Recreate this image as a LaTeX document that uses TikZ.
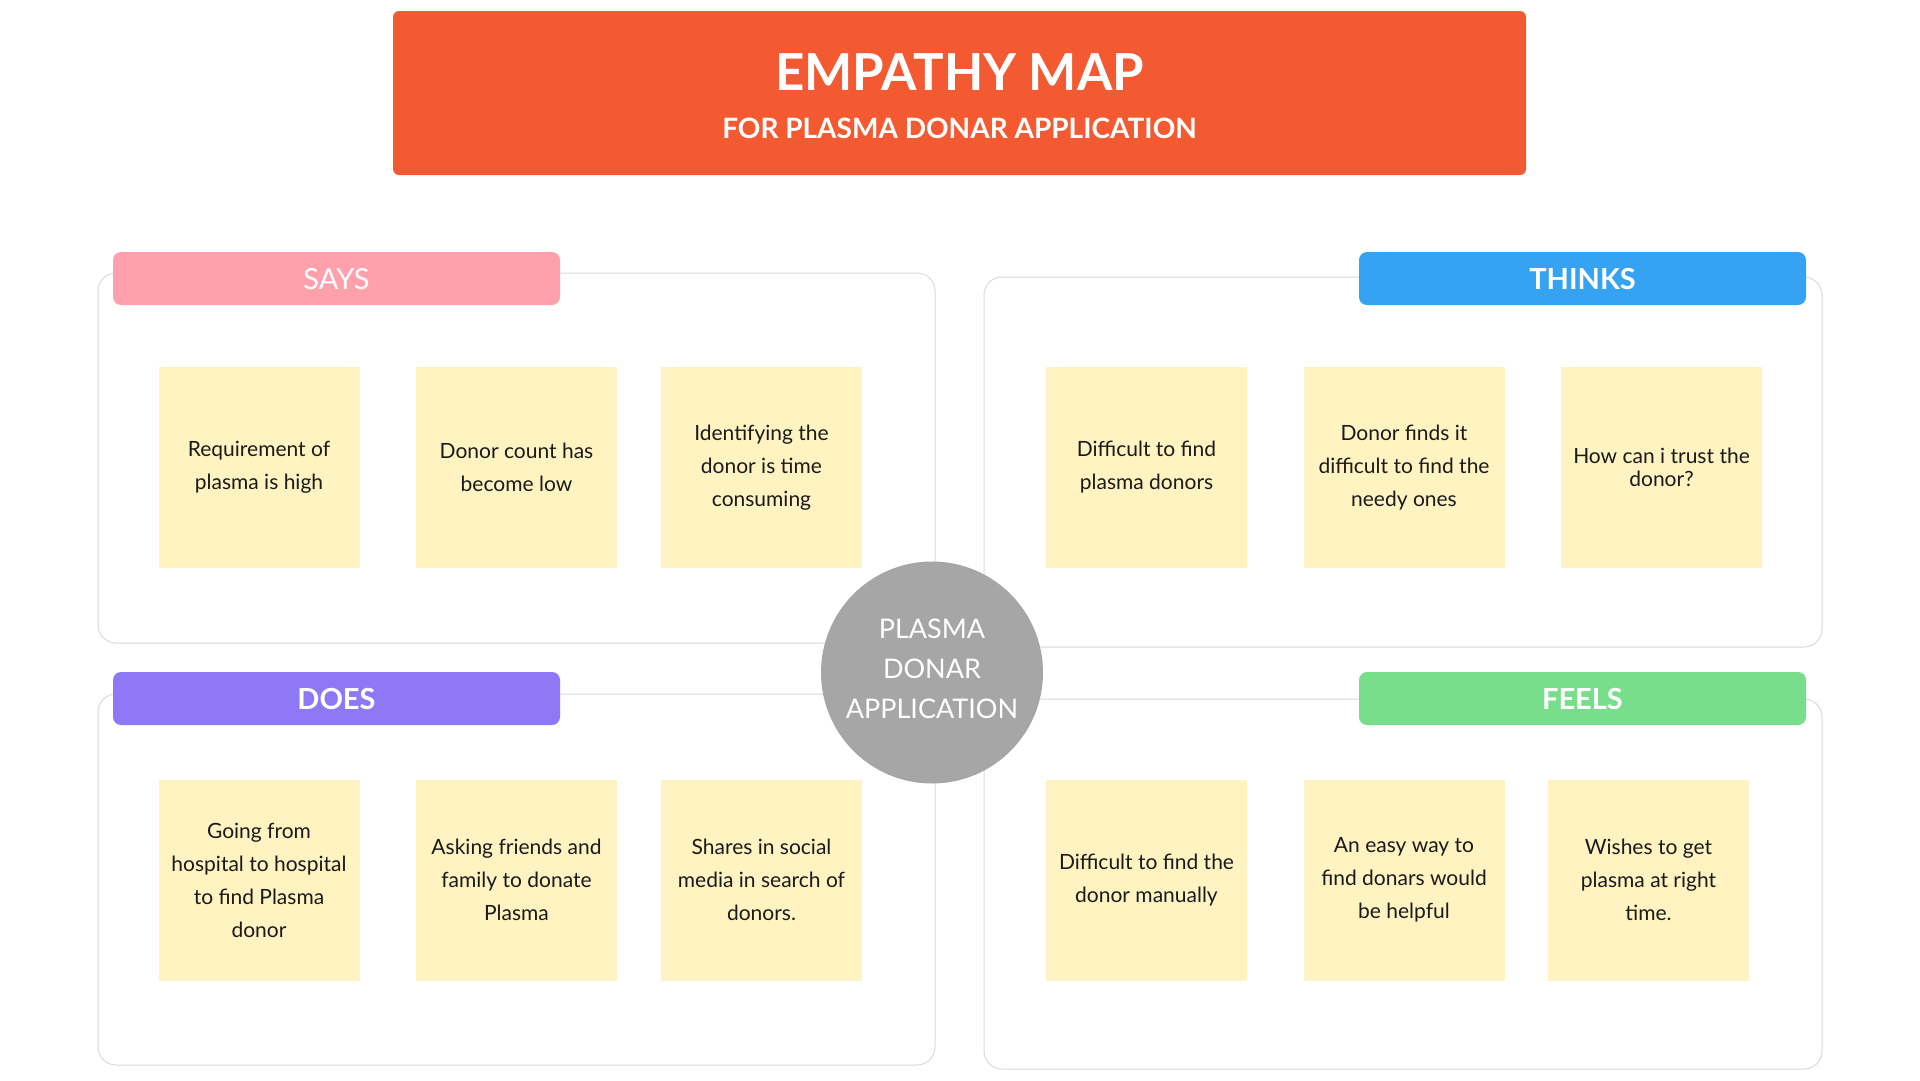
\documentclass[tikz,border=0pt]{standalone}
\usepackage{fontspec}
\setmainfont{Lato}
\usepackage{xcolor}
\usepackage{tikz}
\usetikzlibrary{
    positioning
}
\definecolor{titleorange}{HTML}{F45A32}
\definecolor{sayspink}{HTML}{FFA1AD}
\definecolor{thinksblue}{HTML}{36A2F2}
\definecolor{doespurple}{HTML}{8F78F5}
\definecolor{feelsgreen}{HTML}{78DE8C}
\definecolor{noteyellow}{HTML}{FFF3C1}
\definecolor{hubgray}{HTML}{A6A6A6}
\definecolor{framegray}{HTML}{DADADA}
\definecolor{notetext}{HTML}{1A1A1A}
\tikzset{
    % quadrant frame
    quadrant/.style={
        rectangle,
        rounded corners=18pt,    % corner radius
        draw=framegray,
        line width=1pt,
        minimum width=837pt,
        minimum height=370pt,
        inner sep=0pt
    },
    % coloured heading bar
    header/.style={
        rectangle,
        rounded corners=8pt,
        fill=#1,
        text=white,
        minimum width=447pt,
        minimum height=53pt,
        inner sep=0pt,
        text height=21pt,        % caps only, so the word sits in the middle
        text depth=0pt,
        font=\fontsize{29}{34}\selectfont
    },
    % sticky note
    note/.style={
        rectangle,
        fill=noteyellow,
        minimum width=201pt,
        minimum height=201pt,
        inner sep=0pt,
        align=center,
        text=notetext,
        font=\fontsize{21}{33}\selectfont
    }
}

\begin{document}
\begin{tikzpicture}[x=1pt, y=-1pt]
    \useasboundingbox (0,0) rectangle (1920,1080);
    \fill[white] (0,0) rectangle (1920,1080);

    % Title
    \node[fill=titleorange, rounded corners=6pt, minimum width=1133pt, minimum height=164pt] (titlebox) at (959.5,93) {};
    \node[text=white, font=\fontsize{51}{60}\selectfont\bfseries] (maintitle) at (959.5,72) {EMPATHY MAP};
    \node[text=white, font=\fontsize{28}{32}\selectfont\bfseries] (subtitle) at (959.5,128) {FOR PLASMA DONAR APPLICATION};

    % Quadrants
    \node[quadrant] (saysq) at (516.5,458) {};
    \node[quadrant, minimum width=838pt] (thinksq) at (1403,462) {};
    \node[quadrant, minimum height=371pt] (doesq) at (516.5,879.5) {};
    \node[quadrant, minimum width=838pt] (feelsq) at (1403,884) {};

    % Headers
    \node[header=sayspink] (says) at (336.5,278.5) {SAYS};
    \node[header=thinksblue, font=\fontsize{29}{34}\selectfont\bfseries] (thinks) at (1582.5,278.5) {THINKS};
    \node[header=doespurple, font=\fontsize{29}{34}\selectfont\bfseries] (does) at (336.5,698.5) {DOES};
    \node[header=feelsgreen, font=\fontsize{29}{34}\selectfont\bfseries] (feels) at (1582.5,698.5) {FEELS};

    % Notes - says
    \node[note] (says1) at (259,467.5) {Requirement of\\plasma is high};
    \node[note] (says2) at (516.5,467.5) {Donor count has\\become low};
    \node[note] (says3) at (761.5,467.5) {Identifying the\\donor is time\\consuming};
    % Notes - thinks
    \node[note] (thinks1) at (1146.5,467.5) {Difficult to find\\plasma donors};
    \node[note] (thinks2) at (1404,467.5) {Donor finds it\\difficult to find the\\needy ones};
    \node[note, font=\fontsize{21}{23}\selectfont] (thinks3) at (1661.5,467.5) {How can i trust the\\donor?};
    % Notes - does
    \node[note] (does1) at (259,880) {Going from\\hospital to hospital\\to find Plasma\\donor};
    \node[note] (does2) at (516.5,880) {Asking friends and\\family to donate\\Plasma};
    \node[note] (does3) at (761.5,880) {Shares in social\\media in search of\\donors.};
    % Notes - feels
    \node[note] (feels1) at (1146.5,880) {Difficult to find the\\donor manually};
    \node[note] (feels2) at (1404,880) {An easy way to\\find donars would\\be helpful};
    \node[note] (feels3) at (1648.5,880) {Wishes to get\\plasma at right\\time.};

    % Centre
    \node[circle, fill=hubgray, minimum size=222pt, inner sep=0pt] (hub) at (932,672.5) {};
    \node[align=center, text=white, font=\fontsize{27}{40}\selectfont] (hubtext) at (932,669) {PLASMA\\DONAR\\APPLICATION};

\end{tikzpicture}
\end{document}
